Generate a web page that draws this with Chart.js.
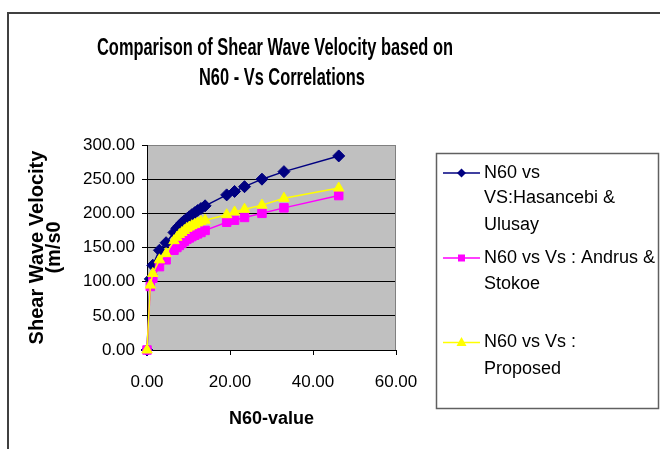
<!DOCTYPE html>
<html>
<head>
<meta charset="utf-8">
<script src="https://cdn.jsdelivr.net/npm/chart.js@4.4.0/dist/chart.umd.min.js"></script>
<style>
  body { margin: 0; background: #fff; }
  canvas { display: block; }
</style>
</head>
<body>
<canvas id="myChart" width="660" height="449"></canvas>
<script>
// data
const n60 = [0, 0.8, 1.4, 3.0, 4.6, 6.5, 7.2, 7.8, 8.4, 9.0, 9.6, 10.2, 10.8, 11.5, 12.2, 13.0, 14.0, 19.2, 21.1, 23.5, 27.7, 33.0, 46.2];
const vsHasancebi = [0, 104, 124, 146, 157, 172, 178, 182, 186, 189, 192, 195, 198, 201, 204, 207, 211, 227, 232, 239, 250, 261, 284];
const vsAndrus = [0, 93, 105, 122, 132, 146, 150, 153, 156, 159, 162, 164, 166, 168, 170, 172, 175, 187, 190, 194, 200, 208, 226];
const vsProposed = [0, 95, 112, 132, 141, 160, 165, 169, 172, 175, 178, 180, 182, 184, 186, 188, 190, 198, 202, 206, 212, 222, 237];

const titleLines = ['Comparison of Shear Wave Velocity based on', 'N60 - Vs Correlations'];
const legendText = [
  ['N60 vs', 'VS:Hasancebi &', 'Ulusay'],
  ['N60 vs Vs : Andrus &', 'Stokoe'],
  ['N60 vs Vs :', 'Proposed']
];
const colors = ['#000080', '#ff00ff', '#ffff00'];

function pts(ys) {
  return n60.map(function(x, i) { return {x: x, y: ys[i]}; });
}

// marker shapes for the legend
function marker(ctx, kind, x, y, col) {
  ctx.fillStyle = col;
  ctx.beginPath();
  if (kind == 0) {
    ctx.moveTo(x, y - 4.5); ctx.lineTo(x + 4.5, y); ctx.lineTo(x, y + 4.5); ctx.lineTo(x - 4.5, y);
  } else if (kind == 1) {
    ctx.rect(x - 3.5, y - 3.5, 7, 7);
  } else {
    ctx.moveTo(x, y - 5.5); ctx.lineTo(x + 5, y + 3.5); ctx.lineTo(x - 5, y + 3.5);
  }
  ctx.closePath();
  ctx.fill();
}

const decor = {
  id: 'decor',
  beforeDraw(chart) {
    const ctx = chart.ctx, a = chart.chartArea;
    ctx.save();
    ctx.fillStyle = '#fff';
    ctx.fillRect(0, 0, chart.width, chart.height);
    ctx.fillStyle = '#c0c0c0';
    ctx.fillRect(a.left, a.top, a.right - a.left, a.bottom - a.top);
    ctx.restore();
  },
  beforeDatasetsDraw(chart) {
    const ctx = chart.ctx, a = chart.chartArea;
    ctx.save();
    ctx.strokeStyle = '#808080';
    ctx.lineWidth = 1;
    ctx.beginPath();
    ctx.moveTo(a.right - 0.5, a.top);
    ctx.lineTo(a.right - 0.5, a.bottom);
    ctx.stroke();
    ctx.restore();
  },
  afterDraw(chart) {
    const ctx = chart.ctx;
    ctx.save();
    // outer frame
    ctx.strokeStyle = '#404040';
    ctx.lineWidth = 2;
    ctx.strokeRect(8, 13, 700, 500);

    // title, squeezed to the narrow look of the original
    ctx.fillStyle = '#000';
    ctx.font = 'bold 24px "Liberation Sans", Arial, sans-serif';
    ctx.textAlign = 'center';
    ctx.textBaseline = 'middle';
    const w0 = ctx.measureText(titleLines[0]).width;
    const sx = 356 / w0;
    ctx.save();
    ctx.scale(sx, 1);
    ctx.fillText(titleLines[0], 275 / sx, 48);
    ctx.fillText(titleLines[1], 282 / sx, 78);
    ctx.restore();

    // legend
    ctx.strokeStyle = '#606060';
    ctx.lineWidth = 1.5;
    ctx.strokeRect(436.5, 153.5, 222, 255);
    const rows = [[173, 198.5, 225], [258, 284], [342.5, 369]];
    ctx.font = '18px "Liberation Sans", Arial, sans-serif';
    ctx.textAlign = 'left';
    legendText.forEach(function(lines, k) {
      const y0 = rows[k][0];
      ctx.strokeStyle = colors[k];
      ctx.lineWidth = 1.5;
      ctx.beginPath();
      ctx.moveTo(443, y0);
      ctx.lineTo(480, y0);
      ctx.stroke();
      marker(ctx, k, 461.5, y0, colors[k]);
      ctx.fillStyle = '#000';
      lines.forEach(function(t, j) {
        ctx.fillText(t, 484, rows[k][j]);
      });
    });
    ctx.restore();
  }
};

var ctx = document.getElementById('myChart').getContext('2d');
var myChart = new Chart(ctx, {
  type: 'line',
  data: {
    datasets: [{
      label: 'N60 vs VS:Hasancebi & Ulusay',
      data: pts(vsHasancebi),
      borderColor: colors[0],
      backgroundColor: colors[0],
      pointStyle: 'rectRot',
      pointRadius: 6,
      clip: 10,
      order: 2
    }, {
      label: 'N60 vs Vs : Andrus & Stokoe',
      data: pts(vsAndrus),
      borderColor: colors[1],
      backgroundColor: colors[1],
      pointStyle: 'rect',
      pointRadius: 6,
      clip: 10,
      order: 1
    }, {
      label: 'N60 vs Vs : Proposed',
      data: pts(vsProposed),
      borderColor: colors[2],
      backgroundColor: colors[2],
      pointStyle: 'triangle',
      pointRadius: 6,
      clip: 10,
      order: 0
    }]
  },
  options: {
    responsive: false,
    animation: false,
    devicePixelRatio: 1,
    layout: { padding: { left: 10, top: 145, right: 264, bottom: 0 } },
    elements: {
      line: { borderWidth: 1.5, tension: 0 },
      point: { borderWidth: 1, hoverRadius: 6 }
    },
    plugins: {
      legend: { display: false },
      title: { display: false },
      tooltip: { enabled: false }
    },
    scales: {
      x: {
        type: 'linear',
        min: 0,
        max: 60,
        ticks: {
          stepSize: 20,
          color: '#000',
          padding: 17,
          maxRotation: 0,
          font: { family: '"Liberation Sans", Arial', size: 17 },
          callback: function(v) { return v.toFixed(2); }
        },
        grid: { drawOnChartArea: false, tickLength: 5, color: '#000', tickColor: '#000' },
        border: { color: '#000', width: 1 },
        title: {
          display: true,
          text: 'N60-value',
          color: '#000',
          font: { family: '"Liberation Sans", Arial', size: 18, weight: 'bold' },
          padding: { top: 0, bottom: 19 }
        },
        afterFit: function(scale) { scale.height = 99; }
      },
      y: {
        min: 0,
        max: 300,
        ticks: {
          stepSize: 50,
          color: '#000',
          padding: 7,
          font: { family: '"Liberation Sans", Arial', size: 17 },
          callback: function(v) { return v.toFixed(2); }
        },
        grid: {
          tickLength: 5,
          tickColor: '#000',
          lineWidth: 1,
          color: function(c) { return c.tick && c.tick.value == 300 ? '#808080' : '#000'; }
        },
        border: { color: '#000', width: 1 },
        title: {
          display: true,
          text: ['Shear Wave Velocity', '(m/s0'],
          color: '#000',
          font: { family: '"Liberation Sans", Arial', size: 20, weight: 'bold', lineHeight: 0.85 },
          padding: { top: 19, bottom: 0 }
        },
        afterFit: function(scale) { scale.width = 137; }
      }
    }
  },
  plugins: [decor]
});
</script>
</body>
</html>
